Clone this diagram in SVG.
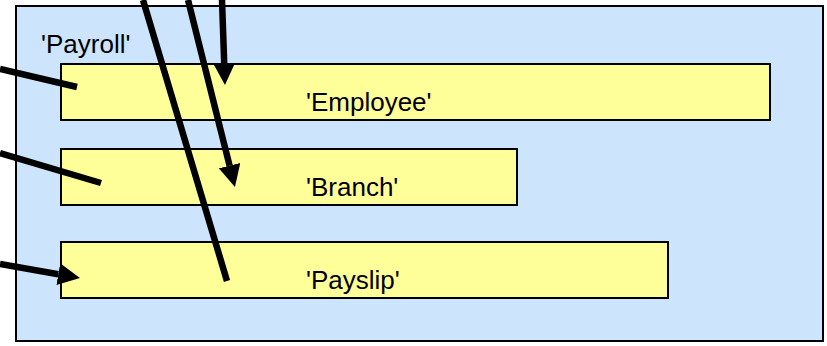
<svg xmlns="http://www.w3.org/2000/svg" width="827" height="346" viewBox="0 0 827 346">
<style>
.outer{fill:#cce4fc;stroke:#000;stroke-width:2}
.node{fill:#ffff99;stroke:#000;stroke-width:2}
.lbl{font-family:"Liberation Sans",Arial,sans-serif;font-size:26px;fill:#000}
.conn{stroke:#000;stroke-width:6.5;fill:none;stroke-linecap:butt}
</style>
<defs>
<marker id="ah" viewBox="0 0 22 22" refX="0" refY="11" markerWidth="22" markerHeight="22" markerUnits="userSpaceOnUse" orient="auto">
<path d="M0,0 L22,11 L0,22 z" fill="#000"/>
</marker>
</defs>
<g id="payroll">
<rect class="outer" x="16" y="6" width="807" height="335"/>
<text class="lbl" x="41" y="53">'Payroll'</text>
</g>
<g id="employee">
<rect class="node" x="61" y="64" width="709" height="56"/>
<text class="lbl" x="306" y="111">'Employee'</text>
</g>
<g id="branch">
<rect class="node" x="61" y="149" width="456" height="56"/>
<text class="lbl" x="306" y="196">'Branch'</text>
</g>
<g id="payslip">
<rect class="node" x="61" y="242" width="607" height="56"/>
<text class="lbl" x="306" y="289">'Payslip'</text>
</g>
<g id="connectors">
<line class="conn" x1="0" y1="69" x2="77" y2="87"/>
<line class="conn" x1="0" y1="153" x2="101" y2="183"/>
<line class="conn" x1="0" y1="264" x2="58.3" y2="274.2" marker-end="url(#ah)"/>
<line class="conn" x1="143" y1="0" x2="227" y2="281"/>
<line class="conn" x1="188" y1="0" x2="229.6" y2="165.7" marker-end="url(#ah)"/>
<line class="conn" x1="222" y1="0" x2="224.2" y2="63" marker-end="url(#ah)"/>
</g>
</svg>
